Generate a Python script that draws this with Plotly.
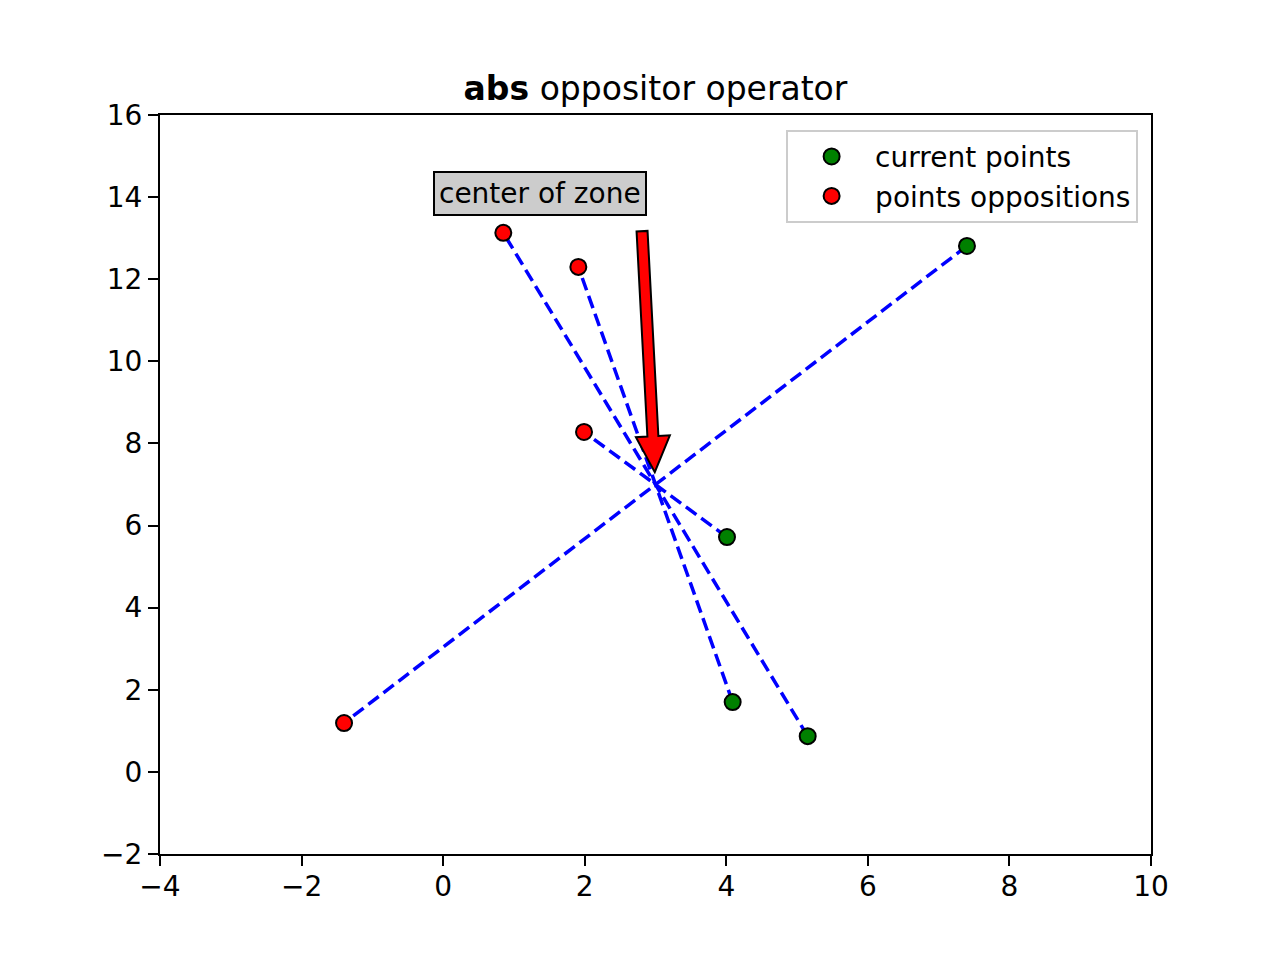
import plotly.graph_objects as go
import math

# ---- data ----
current_x = [7.40, 4.01, 4.09, 5.15]
current_y = [12.81, 5.72, 1.70, 0.87]
oppo_x = [-1.40, 1.99, 1.91, 0.85]
oppo_y = [1.19, 8.28, 12.30, 13.13]
center_label = "center of zone"
arrow_tail = (2.81, 13.17)
arrow_tip = (2.99, 7.30)
x_range = [-4, 10]
y_range = [-2, 16]
x_ticks = [-4, -2, 0, 2, 4, 6, 8, 10]
y_ticks = [-2, 0, 2, 4, 6, 8, 10, 12, 14, 16]

# ---- layout geometry (page has an 8px body offset) ----
W, H = 1280, 960
ML, MT = 152, 107
PW, PH = 991, 739
MR, MB = W - ML - PW, H - MT - PH
sx = PW / (x_range[1] - x_range[0])
sy = PH / (y_range[1] - y_range[0])
FONT = "DejaVu Sans"

fig = go.Figure()

# dashed connecting lines
lx, ly = [], []
for cx, cy, ox, oy in zip(current_x, current_y, oppo_x, oppo_y):
    lx += [cx, ox, None]
    ly += [cy, oy, None]
fig.add_trace(go.Scatter(x=lx, y=ly, mode="lines", showlegend=False,
                         line=dict(color="blue", width=3.5, dash="13px,6px"),
                         hoverinfo="skip"))

fig.add_trace(go.Scatter(x=current_x, y=current_y, mode="markers", name="current points",
                         marker=dict(color="green", size=16, line=dict(color="black", width=2))))
fig.add_trace(go.Scatter(x=oppo_x, y=oppo_y, mode="markers", name="points oppositions",
                         marker=dict(color="red", size=16, line=dict(color="black", width=2))))

# arrow polygon (built in pixel space, converted to data units)
X0, Y0 = arrow_tail[0] * sx, arrow_tail[1] * sy
X1, Y1 = arrow_tip[0] * sx, arrow_tip[1] * sy
L = math.hypot(X1 - X0, Y1 - Y0)
dx, dy = (X1 - X0) / L, (Y1 - Y0) / L
nx, ny = -dy, dx
head_len, shaft_hw, head_hw = 36, 5.5, 17
BX, BY = X1 - dx * head_len, Y1 - dy * head_len
pts = [
    (X0 + nx * shaft_hw, Y0 + ny * shaft_hw),
    (BX + nx * shaft_hw, BY + ny * shaft_hw),
    (BX + nx * head_hw, BY + ny * head_hw),
    (X1, Y1),
    (BX - nx * head_hw, BY - ny * head_hw),
    (BX - nx * shaft_hw, BY - ny * shaft_hw),
    (X0 - nx * shaft_hw, Y0 - ny * shaft_hw),
]
path = "M " + " L ".join(f"{px / sx:.4f},{py / sy:.4f}" for px, py in pts) + " Z"
fig.add_shape(type="path", path=path, xref="x", yref="y",
              fillcolor="red", line=dict(color="black", width=2), layer="above")

fig.add_annotation(x=1.375, y=14.10, xref="x", yref="y", text=center_label,
                   showarrow=False, xanchor="center", yanchor="middle",
                   font=dict(family=FONT, size=28, color="black"),
                   bgcolor="#cccccc", bordercolor="black", borderwidth=2, borderpad=4)

axis_common = dict(showline=True, linecolor="black", linewidth=2, mirror=True,
                   ticks="outside", ticklen=10, tickwidth=2, tickcolor="black",
                   showgrid=False, zeroline=False,
                   tickfont=dict(family=FONT, size=28, color="black"))
fig.update_xaxes(range=x_range, tickvals=x_ticks, ticklabelstandoff=-4, **axis_common)
fig.update_yaxes(range=y_range, tickvals=y_ticks, **axis_common)

fig.update_layout(
    width=W, height=H, margin=dict(l=ML, r=MR, t=MT, b=MB),
    plot_bgcolor="white", paper_bgcolor="white",
    font=dict(family=FONT, color="black"),
    title=dict(text="<b>abs</b> oppositor operator", x=0.5, xref="paper", xanchor="center",
               y=1, yref="paper", yanchor="bottom", pad=dict(b=15),
               font=dict(family=FONT, size=33, color="black")),
    legend=dict(x=0.987, y=0.98, xanchor="right", yanchor="top",
                bgcolor="white", bordercolor="#cccccc", borderwidth=2,
                font=dict(family=FONT, size=28, color="black"),
                itemwidth=77),
)

fig.write_html("out.html")
